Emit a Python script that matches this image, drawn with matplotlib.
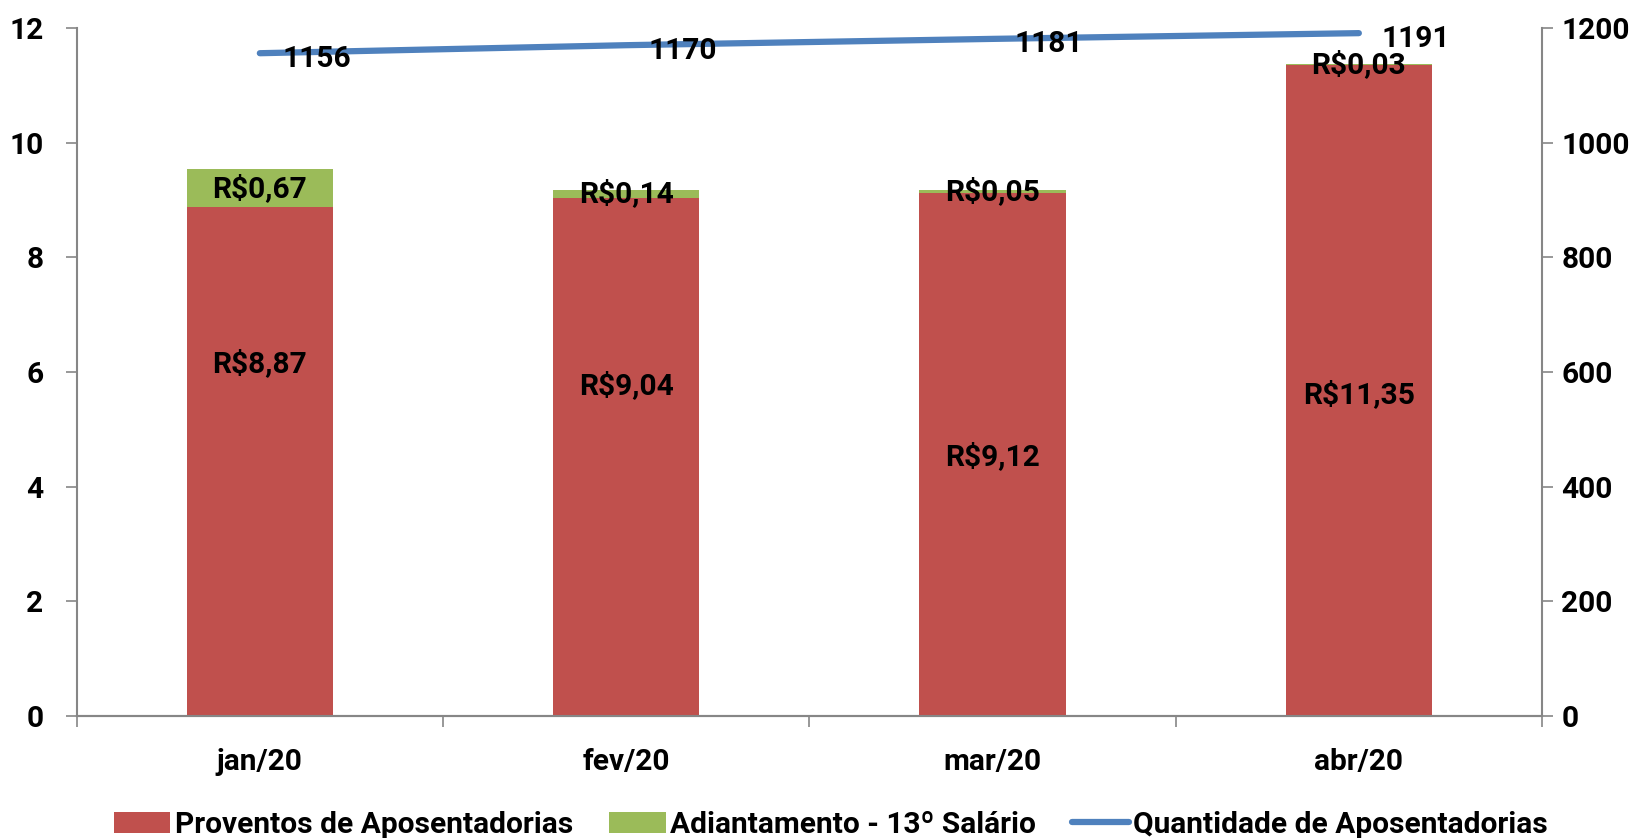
import matplotlib.pyplot as plt
import numpy as np

months = ["jan/20", "fev/20", "mar/20", "abr/20"]
proventos = [8.87, 9.04, 9.12, 11.35]
adiantamento = [0.67, 0.14, 0.05, 0.03]
quantidade = [1156, 1170, 1181, 1191]
# where the "Proventos" labels sit (moved by hand in the original)
label_y = [6.15, 5.76, 4.52, 5.6]

red = "#C0504D"
green = "#9BBB59"
blue = "#4F81BD"
gray = "#868686"

plt.rcParams['font.family'] = ['Roboto', 'DejaVu Sans']
plt.rcParams['font.weight'] = 'bold'
fs = 21.5

fig = plt.figure(figsize=(16.45, 8.38), dpi=100)
ax = fig.add_axes([0.0466, 0.1456, 0.8908, 0.821])
ax2 = ax.twinx()

x = np.arange(len(months))
b1 = ax.bar(x, proventos, width=0.4, color=red, label="Proventos de Aposentadorias", zorder=2)
b2 = ax.bar(x, adiantamento, width=0.4, bottom=proventos, color=green,
            label="Adiantamento - 13º Salário", zorder=2)

for i in x:
    ax.text(i, label_y[i], "R$" + f"{proventos[i]:.2f}".replace(".", ","),
            ha="center", va="center", fontsize=fs, fontweight="bold")
    ax.text(i, proventos[i] + adiantamento[i] / 2, "R$" + f"{adiantamento[i]:.2f}".replace(".", ","),
            ha="center", va="center", fontsize=fs, fontweight="bold")

ln, = ax2.plot(x, quantidade, color=blue, lw=4.5, solid_capstyle="round",
               label="Quantidade de Aposentadorias")
for i in x:
    ax2.annotate(str(quantidade[i]), (i, quantidade[i]), xytext=(16, -4),
                 textcoords="offset points", ha="left", va="center",
                 fontsize=fs, fontweight="bold")

ax.set_xlim(-0.5, 3.5)
ax.set_ylim(0, 12)
ax2.set_ylim(0, 1200)
ax.set_yticks(range(0, 13, 2))
ax2.set_yticks(range(0, 1201, 200))
ax.set_xticks(x)
ax.set_xticklabels(months)
ax.set_xticks(np.arange(-0.5, 4, 1), minor=True)
ax.tick_params(axis="x", which="major", length=0, pad=23, labelsize=fs)
ax.tick_params(axis="x", which="minor", length=8, color=gray, width=1.2)
ax.tick_params(axis="y", length=8, color=gray, width=1.2, labelsize=fs, pad=16)
ax2.tick_params(axis="y", length=8, color=gray, width=1.2, labelsize=fs, pad=6)

for a in (ax, ax2):
    a.spines["top"].set_visible(False)
    for s in ("left", "right", "bottom"):
        a.spines[s].set_color(gray)
        a.spines[s].set_linewidth(1.5)
ax2.spines["left"].set_visible(False)
ax.spines["right"].set_visible(False)
ax.set_zorder(ax2.get_zorder() + 1)
ax.patch.set_visible(False)
ax2.set_zorder(0)

handles = [b1, b2, ln]
fig.legend(handles, [h.get_label() for h in handles], loc="center",
           bbox_to_anchor=(0.505, 0.016), ncol=3, frameon=False, fontsize=fs,
           handlelength=1.9, handleheight=0.7, handletextpad=0.15, columnspacing=1.2)

fig.savefig("out.png", dpi=100)
